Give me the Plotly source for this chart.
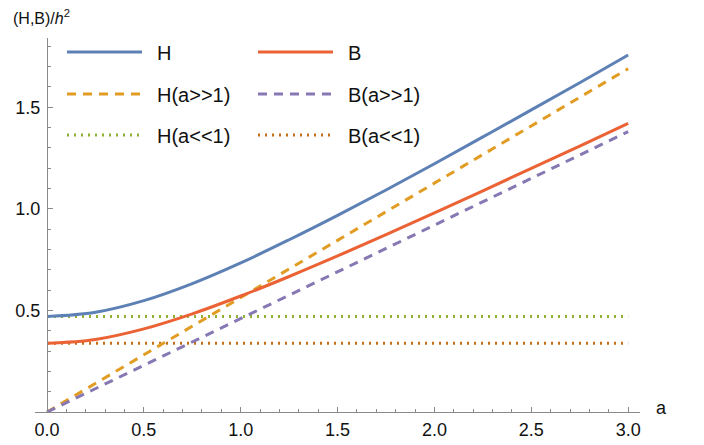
import plotly.graph_objects as go

# ---- data ----
a_vals = [0.0, 0.25, 0.5, 0.75, 1.0, 1.25, 1.5, 1.75, 2.0, 2.25, 2.5, 2.75, 3.0]
H_vals = [0.470, 0.491, 0.548, 0.632, 0.734, 0.848, 0.968, 1.093, 1.222, 1.354, 1.487, 1.621, 1.757]
B_vals = [0.338, 0.357, 0.409, 0.483, 0.571, 0.667, 0.768, 0.873, 0.980, 1.089, 1.199, 1.309, 1.421]
a_ends = [0.0, 3.0]
H_large = [0.0, 1.69]
B_large = [0.0, 1.38]
H_small = [0.47, 0.47]
B_small = [0.338, 0.338]

x_ticks = [0.0, 0.5, 1.0, 1.5, 2.0, 2.5, 3.0]
x_labels = ["0.0", "0.5", "1.0", "1.5", "2.0", "2.5", "3.0"]
y_ticks = [0.5, 1.0, 1.5]
y_labels = ["0.5", "1.0", "1.5"]

names = ["H", "B", "H(a>>1)", "B(a>>1)", "H(a<<1)", "B(a<<1)"]
colors = ["#5E81B5", "#EB6235", "#E19C24", "#8778B3", "#8FB032", "#C56E1A"]
dashes = ["solid", "solid", "9px,7px", "9px,7px", "2px,5px", "2px,5px"]

series = [
    (a_vals, H_vals), (a_vals, B_vals),
    (a_ends, H_large), (a_ends, B_large),
    (a_ends, H_small), (a_ends, B_small),
]

FONT = "Liberation Sans, Arial, sans-serif"
W, H = 704, 445
L, R, T, B = 35, 640, 38, 412  # plot area in pixels

def px(x):
    return (x - L) / (R - L)

def py(y):
    return (B - y) / (B - T)

fig = go.Figure()
order = [4, 5, 2, 3, 0, 1]
for i in order:
    xs, ys = series[i]
    fig.add_trace(go.Scatter(
        x=xs, y=ys, mode="lines", name=names[i], showlegend=False,
        line=dict(color=colors[i], width=3, dash=dashes[i],
                  shape="spline" if len(xs) > 2 else "linear"),
    ))

# manual legend (two columns, three rows)
rows_y = [52, 94, 135]
cols = [(67, 142, 155), (258, 333, 346)]
shapes = []
annotations = []
for k in range(6):
    r = k // 2
    c = k % 2
    x0, x1, xt = cols[c]
    yy = rows_y[r]
    shapes.append(dict(type="line", xref="paper", yref="paper",
                       x0=px(x0), x1=px(x1), y0=py(yy), y1=py(yy),
                       line=dict(color=colors[k], width=3, dash=dashes[k])))
    annotations.append(dict(xref="paper", yref="paper", x=px(xt), y=py(yy + 1),
                            text=names[k].replace("<", "&lt;").replace(">", "&gt;"),
                            showarrow=False, xanchor="left", yanchor="middle",
                            font=dict(family=FONT, size=20, color="#111")))

annotations.append(dict(xref="paper", yref="paper", x=px(11), y=py(17),
                        text="(H,B)/<i>h</i><sup>2</sup>", showarrow=False,
                        xanchor="left", yanchor="middle",
                        font=dict(family=FONT, size=16, color="#111")))
annotations.append(dict(xref="paper", yref="paper", x=px(654), y=py(408),
                        text="a", showarrow=False, xanchor="left", yanchor="middle",
                        font=dict(family=FONT, size=18, color="#111")))

axis_col = "#8a8a8a"
fig.update_layout(
    width=W, height=H,
    margin=dict(l=L, r=W - R, t=T, b=H - B, pad=0, autoexpand=False),
    paper_bgcolor="white", plot_bgcolor="white",
    shapes=shapes, annotations=annotations,
    xaxis=dict(range=[-0.062, 3.061], showgrid=False, zeroline=False,
               automargin=False,
               showline=True, linecolor=axis_col, linewidth=1,
               tickmode="array", tickvals=x_ticks, ticktext=x_labels,
               ticks="inside", ticklen=5, tickcolor=axis_col, tickwidth=1,
               ticklabelstandoff=1,
               minor=dict(tickmode="linear", tick0=0, dtick=0.1, ticks="inside",
                          ticklen=3, tickcolor=axis_col, showgrid=False),
               tickfont=dict(family=FONT, size=18, color="#111")),
    yaxis=dict(range=[0, 1.841], showgrid=False, zeroline=False,
               automargin=False,
               anchor="free", position=px(47),
               showline=True, linecolor=axis_col, linewidth=1,
               tickmode="array", tickvals=y_ticks, ticktext=y_labels,
               ticks="inside", ticklen=5, tickcolor=axis_col, tickwidth=1,
               ticklabelstandoff=3,
               minor=dict(tickmode="linear", tick0=0, dtick=0.1, ticks="inside",
                          ticklen=3, tickcolor=axis_col, showgrid=False),
               tickfont=dict(family=FONT, size=18, color="#111")),
)

fig.write_html("out.html", config={"displayModeBar": False},
               post_script="document.body.style.margin='0';document.body.style.overflow='hidden';")
